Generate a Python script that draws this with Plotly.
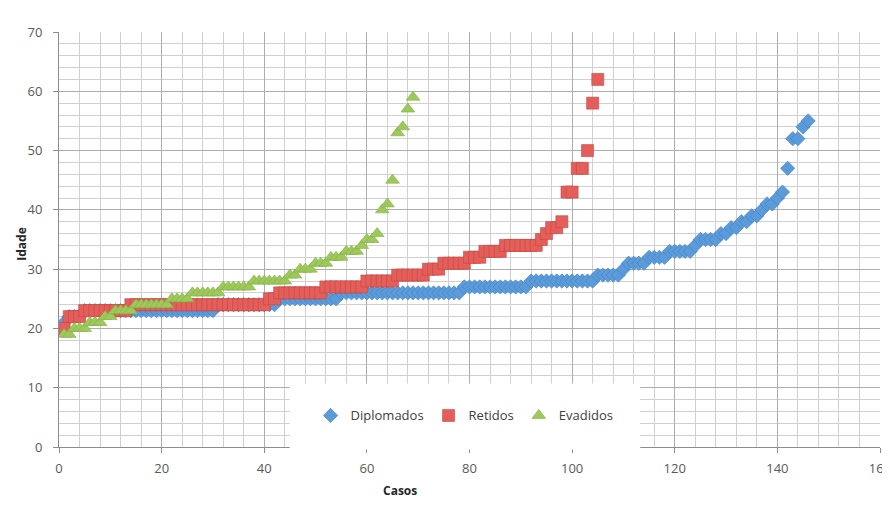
import plotly.graph_objects as go

# ---- data (ages sorted ascending per group) ----
idade_diplomados = [
    21,
    22, 22, 22,
    23, 23, 23, 23, 23, 23, 23, 23, 23, 23, 23, 23, 23,
    23, 23, 23, 23, 23, 23, 23, 23, 23, 23, 23, 23, 23,
    24, 24, 24, 24, 24, 24, 24, 24, 24, 24, 24, 24,
    25, 25, 25, 25, 25, 25, 25, 25, 25, 25, 25, 25,
    26, 26, 26, 26, 26, 26, 26, 26, 26, 26, 26, 26,
    26, 26, 26, 26, 26, 26, 26, 26, 26, 26, 26, 26,
    27, 27, 27, 27, 27, 27, 27, 27, 27, 27, 27, 27, 27,
    28, 28, 28, 28, 28, 28, 28, 28, 28, 28, 28, 28, 28,
    29, 29, 29, 29, 29,
    30,
    31, 31, 31, 31,
    32, 32, 32, 32,
    33, 33, 33, 33, 33,
    34,
    35, 35, 35, 35,
    36, 36,
    37, 37,
    38, 38,
    39, 39,
    40,
    41, 41,
    42,
    43,
    47, 52, 52, 54, 55,
]

idade_retidos = [
    20,
    22, 22, 22,
    23, 23, 23, 23, 23, 23, 23, 23, 23,
    24, 24, 24, 24, 24, 24, 24, 24, 24, 24, 24, 24, 24, 24,
    24, 24, 24, 24, 24, 24, 24, 24, 24, 24, 24, 24, 24,
    25, 25,
    26, 26, 26, 26, 26, 26, 26, 26, 26,
    27, 27, 27, 27, 27, 27, 27, 27,
    28, 28, 28, 28, 28, 28,
    29, 29, 29, 29, 29, 29,
    30, 30, 30,
    31, 31, 31, 31, 31,
    32, 32, 32,
    33, 33, 33, 33,
    34, 34, 34, 34, 34, 34, 34,
    35, 36, 37, 37, 38, 43, 43, 47, 47, 50, 58, 62,
]

idade_evadidos = [
    19, 19,
    20, 20, 20,
    21, 21, 21,
    22, 22,
    23, 23, 23, 23,
    24, 24, 24, 24, 24, 24, 24,
    25, 25, 25, 25,
    26, 26, 26, 26, 26, 26,
    27, 27, 27, 27, 27, 27,
    28, 28, 28, 28, 28, 28, 28,
    29, 29,
    30, 30, 30,
    31, 31, 31,
    32, 32, 32,
    33, 33, 33,
    34, 35, 35, 36,
    40, 41, 45, 53, 54, 57, 59,
]

series_names = ["Diplomados", "Retidos", "Evadidos"]
x_tick_values = [0, 20, 40, 60, 80, 100, 120, 140, 160]
y_tick_values = [0, 10, 20, 30, 40, 50, 60, 70]

# ---- styling ----
FONT = "Open Sans"
styles = {
    "Diplomados": dict(symbol="diamond", size=11, color="#5B9BDA", line="#3F7FC0"),
    "Retidos": dict(symbol="square", size=12, color="#E45E5A", line="#C44844"),
    "Evadidos": dict(symbol="triangle-up", size=12, color="#9DC95A", line="#83AE45"),
}

fig = go.Figure()
for name, ages in zip(series_names, [idade_diplomados, idade_retidos, idade_evadidos]):
    st = styles[name]
    casos = list(range(1, len(ages) + 1))
    fig.add_trace(go.Scatter(
        x=casos, y=ages, mode="markers", name=name,
        marker=dict(symbol=st["symbol"], size=st["size"], color=st["color"],
                    line=dict(color=st["line"], width=0.6)),
    ))

axis_common = dict(
    showline=True, linecolor="#8C8C8C", linewidth=1,
    showgrid=True, gridcolor="#ADADAD", gridwidth=1.3,
    ticks="outside", ticklen=5, tickcolor="#8C8C8C",
    tickfont=dict(family=FONT, size=13, color="#595959"),
    zeroline=False, ticklabeloverflow="allow", automargin=False,
)

fig.update_xaxes(
    range=[0, 160], tickvals=x_tick_values, ticklabelstandoff=4,
    minor=dict(dtick=4, showgrid=True, gridcolor="#D0D0D0", gridwidth=1, ticks=""),
    **axis_common,
)
fig.update_yaxes(
    range=[0, 70], tickvals=y_tick_values, ticklabelstandoff=8,
    minor=dict(dtick=2, showgrid=True, gridcolor="#D0D0D0", gridwidth=1, ticks=""),
    **axis_common,
)

fig.update_layout(
    width=890, height=503,
    margin=dict(l=51, r=18, t=24, b=64),
    paper_bgcolor="white", plot_bgcolor="white",
    font=dict(family=FONT, color="#404040"),
    showlegend=True,
    legend=dict(
        orientation="h", x=0.494, y=0.076, xanchor="center", yanchor="middle",
        bgcolor="rgba(0,0,0,0)", font=dict(family=FONT, size=13, color="#404040"),
        itemclick=False,
    ),
    shapes=[dict(
        type="rect", xref="paper", yref="paper",
        x0=0.281, x1=0.708, y0=-0.006, y1=0.153,
        fillcolor="white", line=dict(width=0), layer="above",
    )],
    annotations=[
        dict(text="<b>Idade</b>", xref="paper", yref="paper", x=-0.045, y=0.49,
             xanchor="center", yanchor="middle",
             textangle=-90, showarrow=False, font=dict(family=FONT, size=12, color="#262626")),
        dict(text="<b>Casos</b>", xref="paper", yref="paper", x=0.415, y=-0.104,
             xanchor="center", yanchor="middle",
             showarrow=False, font=dict(family=FONT, size=12, color="#262626")),
    ],
)

fig.write_html("out.html")
